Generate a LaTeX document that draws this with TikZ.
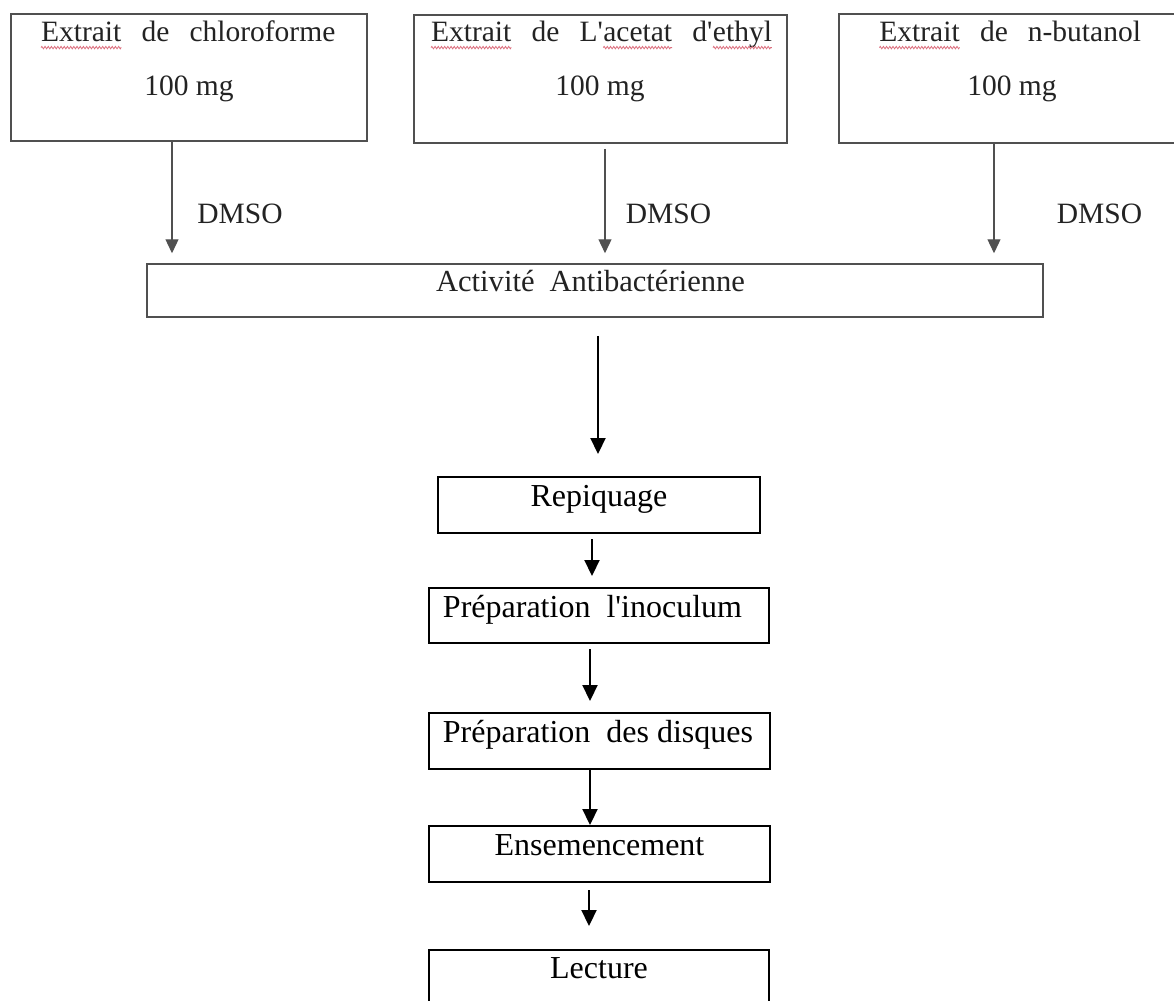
\documentclass[tikz,border=0pt]{standalone}
\usepackage{fontspec}
\setmainfont{Liberation Serif}
\usetikzlibrary{arrows.meta,decorations.pathmorphing}
\definecolor{linegray}{RGB}{80,80,80}
\definecolor{txtgray}{RGB}{35,35,35}
\definecolor{squigred}{RGB}{220,110,125}
\tikzset{
  sqline/.style={draw=squigred,line width=0.4pt,decorate,decoration={zigzag,amplitude=0.6pt,segment length=1.6pt}}
}
\newcommand\sqw[1]{\tikz[baseline=(sqwn.base)]{\node[inner sep=0pt,outer sep=0pt] (sqwn) {#1};\draw[sqline] ([yshift=-3.3pt]sqwn.base west) -- ([yshift=-3.3pt]sqwn.base east);}}
\newcommand\gapw{\hspace{10pt}}
\newcommand\apos{\textquotesingle}
\begin{document}
\begin{tikzpicture}[x=0.5pt,y=-0.5pt,
  topbox/.style={draw=linegray,line width=0.75pt,rectangle,inner sep=0pt},
  botbox/.style={draw=black,line width=1pt,rectangle,inner sep=0pt},
  toptxt/.style={text=txtgray,font=\fontsize{14.75pt}{17pt}\selectfont,inner sep=0pt,anchor=base},
  bottxt/.style={text=black,font=\fontsize{16pt}{19pt}\selectfont,inner sep=0pt,anchor=base},
  toparr/.style={draw=linegray,line width=0.65pt,-{Triangle[length=7pt,width=6.5pt]}},
  botarr/.style={draw=black,line width=1.1pt,-{Triangle[length=8pt,width=7.5pt]}}]
\useasboundingbox (0,0) rectangle (1174,1001);
\fill[white] (0,0) rectangle (1174,1001);
\clip (0,0) rectangle (1174,1001);

% top boxes
\node[topbox,minimum width=178pt,minimum height=63.5pt] (b1) at (189,77.5) {};
\node[topbox,minimum width=186.5pt,minimum height=64pt] (b2) at (600.5,79) {};
\node[topbox,minimum width=171pt,minimum height=64.5pt] (b3) at (1010,78.5) {};
\node[topbox,minimum width=448pt,minimum height=26.5pt] (act) at (595,290.5) {};

\node[toptxt] (b1l1) at (188,41) {\sqw{Extrait}\gapw de\gapw chloroforme};
\node[toptxt] (b1l2) at (189,95) {100 mg};
\node[toptxt] (b2l1) at (601.5,41) {\sqw{Extrait}\gapw de\gapw L\apos\sqw{acetat}\gapw d\apos\sqw{ethyl}};
\node[toptxt] (b2l2) at (600,95) {100 mg};
\node[toptxt] (b3l1) at (1010,41) {\sqw{Extrait}\gapw de\gapw n-butanol};
\node[toptxt] (b3l2) at (1012,95) {100 mg};

\node[toptxt] (d1) at (240,223) {DMSO};
\node[toptxt] (d2) at (668.5,223) {DMSO};
\node[toptxt] (d3) at (1099.5,223) {DMSO};
\node[toptxt,font=\fontsize{15.3pt}{18pt}\selectfont] (actt) at (590.5,291) {Activité\hspace{7.5pt}Antibactérienne};

% bottom boxes
\node[botbox,minimum width=161pt,minimum height=28pt] (rep) at (599,505) {};
\node[botbox,minimum width=170pt,minimum height=27.5pt] (ino) at (599,615.5) {};
\node[botbox,minimum width=170.5pt,minimum height=28pt] (dis) at (599.5,741) {};
\node[botbox,minimum width=170.5pt,minimum height=28pt] (ens) at (599.5,854) {};
\node[botbox,minimum width=170pt,minimum height=35pt] (lec) at (599,985) {};

\node[bottxt] (rept) at (599,506) {Repiquage};
\node[bottxt] (inot) at (592.5,617) {Préparation~ l\apos inoculum};
\node[bottxt] (dist) at (598,742) {Préparation~ des disques};
\node[bottxt] (enst) at (599.5,855) {Ensemencement};
\node[bottxt] (lect) at (599,978) {Lecture};

% connectors
\coordinate (xa1) at (172,0);
\coordinate (xa2) at (605,0);
\coordinate (xa3) at (994,0);
\draw[toparr,shorten >=5pt] (b1.south -| xa1) -- (act.north -| xa1);
\draw[toparr,shorten <=2.5pt,shorten >=5pt] (b2.south -| xa2) -- (act.north -| xa2);
\draw[toparr,shorten >=5pt] (b3.south -| xa3) -- (act.north -| xa3);

\coordinate (xb0) at (598,0);
\coordinate (xb1) at (592,0);
\coordinate (xb2) at (590,0);
\coordinate (xb4) at (589,0);
\draw[botarr,shorten <=9pt,shorten >=11pt] (act.south -| xb0) -- (rep.north -| xb0);
\draw[botarr,shorten <=2.5pt,shorten >=5.5pt] (rep.south -| xb1) -- (ino.north -| xb1);
\draw[botarr,shorten <=2.5pt,shorten >=5.5pt] (ino.south -| xb2) -- (dis.north -| xb2);
\draw[botarr] (dis.south -| xb2) -- (ens.north -| xb2);
\draw[botarr,shorten <=3.5pt,shorten >=11.5pt] (ens.south -| xb4) -- (lec.north -| xb4);
\end{tikzpicture}
\end{document}
